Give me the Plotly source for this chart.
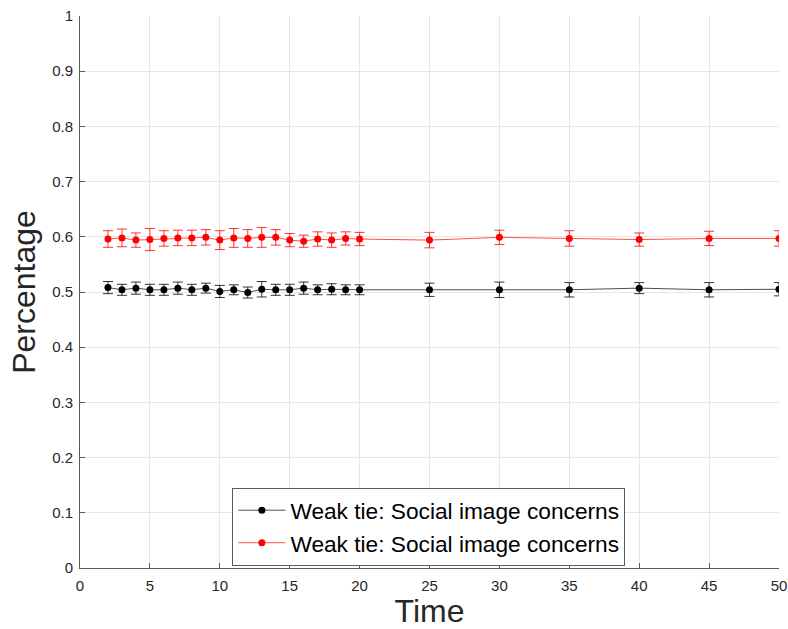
import plotly.graph_objects as go

# Time points and measured shares for the two series
time = [2, 3, 4, 5, 6, 7, 8, 9, 10, 11, 12, 13, 14, 15, 16, 17, 18, 19, 20,
        25, 30, 35, 40, 45, 50]

black_mean = [0.508, 0.504, 0.507, 0.504, 0.504, 0.507, 0.504, 0.507, 0.501, 0.504,
              0.499, 0.505, 0.504, 0.504, 0.507, 0.504, 0.505, 0.504, 0.504,
              0.504, 0.504, 0.504, 0.507, 0.504, 0.505]
black_err = [0.011, 0.010, 0.011, 0.010, 0.010, 0.011, 0.010, 0.009, 0.011, 0.009,
             0.010, 0.014, 0.010, 0.010, 0.011, 0.009, 0.010, 0.009, 0.009,
             0.012, 0.014, 0.013, 0.010, 0.013, 0.012]

red_mean = [0.596, 0.598, 0.594, 0.595, 0.597, 0.598, 0.598, 0.599, 0.594, 0.598,
            0.597, 0.599, 0.599, 0.594, 0.592, 0.596, 0.594, 0.597, 0.596,
            0.594, 0.599, 0.597, 0.595, 0.597, 0.597]
red_err = [0.015, 0.016, 0.013, 0.020, 0.014, 0.014, 0.014, 0.014, 0.017, 0.017,
           0.016, 0.018, 0.014, 0.012, 0.011, 0.013, 0.013, 0.012, 0.012,
           0.014, 0.013, 0.014, 0.012, 0.013, 0.014]

series_name = "Weak tie: Social image concerns"

x_ticks = [0, 5, 10, 15, 20, 25, 30, 35, 40, 45, 50]
y_ticks = [0, 0.1, 0.2, 0.3, 0.4, 0.5, 0.6, 0.7, 0.8, 0.9, 1]
y_tick_text = ["0", "0.1", "0.2", "0.3", "0.4", "0.5", "0.6", "0.7", "0.8", "0.9", "1"]

FONT = "Liberation Sans, Arial, Helvetica, sans-serif"
AX = "#262626"

fig = go.Figure()
for mean, err, color in [(black_mean, black_err, "black"), (red_mean, red_err, "red")]:
    fig.add_trace(go.Scatter(
        x=time, y=mean, mode="lines+markers", name=series_name,
        line=dict(color=color, width=0.7),
        marker=dict(color=color, size=7),
        error_y=dict(type="data", array=err, visible=True, color=color,
                     thickness=0.8, width=5),
    ))

axis_common = dict(
    automargin=False,
    showline=True, linecolor="#5a5a5a", linewidth=1, mirror=False,
    ticks="inside", ticklen=5, tickcolor="#5a5a5a", tickwidth=1,
    showgrid=True, gridcolor="#e6e6e6", gridwidth=1, zeroline=False,
    tickfont=dict(family=FONT, size=15, color=AX),
    ticklabeloverflow="allow",
)

fig.update_xaxes(range=[0, 50], tickvals=x_ticks, ticklabelstandoff=4,
                 title=dict(text="Time", font=dict(family=FONT, size=32, color=AX), standoff=12),
                 **axis_common)
fig.update_yaxes(range=[0, 1], tickvals=y_ticks, ticktext=y_tick_text, ticklabelstandoff=3,
                 title=dict(text="Percentage", font=dict(family=FONT, size=32, color=AX), standoff=6),
                 **axis_common)

fig.update_layout(
    template="none",
    width=788, height=629,
    margin=dict(l=80, r=9, t=16, b=61),
    paper_bgcolor="white", plot_bgcolor="white",
    showlegend=True,
    legend=dict(x=0.218, y=0.145, xanchor="left", yanchor="top",
                bgcolor="white", bordercolor="#5a5a5a", borderwidth=1,
                font=dict(family=FONT, size=22.7, color="black"),
                tracegroupgap=0, itemwidth=47),
)

fig.write_html("out.html")
